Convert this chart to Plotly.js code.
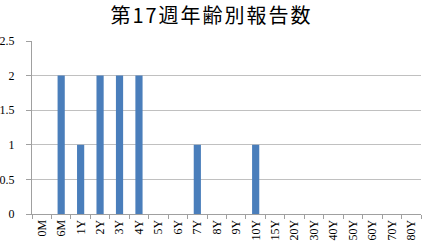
<!DOCTYPE html>
<html><head><meta charset="utf-8">
<script src="https://cdn.plot.ly/plotly-3.0.1.min.js"></script>
<style>html,body{margin:0;padding:0;background:#fff}#chart{width:423px;height:250px}
.gtitle{letter-spacing:2px}</style>
</head><body><div id="chart"></div>
<script>
const categories = ["0M","6M","1Y","2Y","3Y","4Y","5Y","6Y","7Y","8Y","9Y","10Y","15Y","20Y","30Y","40Y","50Y","60Y","70Y","80Y"];
const counts = [0,2,1,2,2,2,0,0,1,0,0,1,0,0,0,0,0,0,0,0];
const titleText = "第17週年齢別報告数";

Plotly.newPlot("chart", [{
  type: "bar", x: categories, y: counts,
  marker: {color: "#4a7ebb", line: {width: 0}},
  hoverinfo: "none"
}], {
  width: 423, height: 250,
  margin: {l: 32, r: 2, t: 41, b: 36},
  paper_bgcolor: "#fff", plot_bgcolor: "#fff",
  bargap: 0.63,
  title: {text: titleText, x: 0.5, xanchor: "center", xref: "container", yref: "container", y: 0.938, yanchor: "middle",
          font: {family: "Noto Sans CJK JP", size: 20, color: "#000"}},
  font: {family: "Liberation Serif, serif", size: 12, color: "#000"},
  xaxis: {type: "category", tickangle: -90, tickson: "boundaries", ticks: "outside", ticklen: 4,
          tickcolor: "#a0a0a0", showline: true, linecolor: "#a0a0a0", linewidth: 1,
          showgrid: false, tickfont: {family: "Liberation Serif, serif", size: 12}},
  yaxis: {range: [0, 2.5], dtick: 0.5, ticks: "outside", ticklen: 5, tickcolor: "#a0a0a0",
          showline: true, linecolor: "#a0a0a0", linewidth: 1, gridcolor: "#c0c0c0", zeroline: false,
          tickfont: {family: "Liberation Serif, serif", size: 12}, ticksuffix: "   "},
  showlegend: false
}, {displayModeBar: false, staticPlot: true});
</script></body></html>
